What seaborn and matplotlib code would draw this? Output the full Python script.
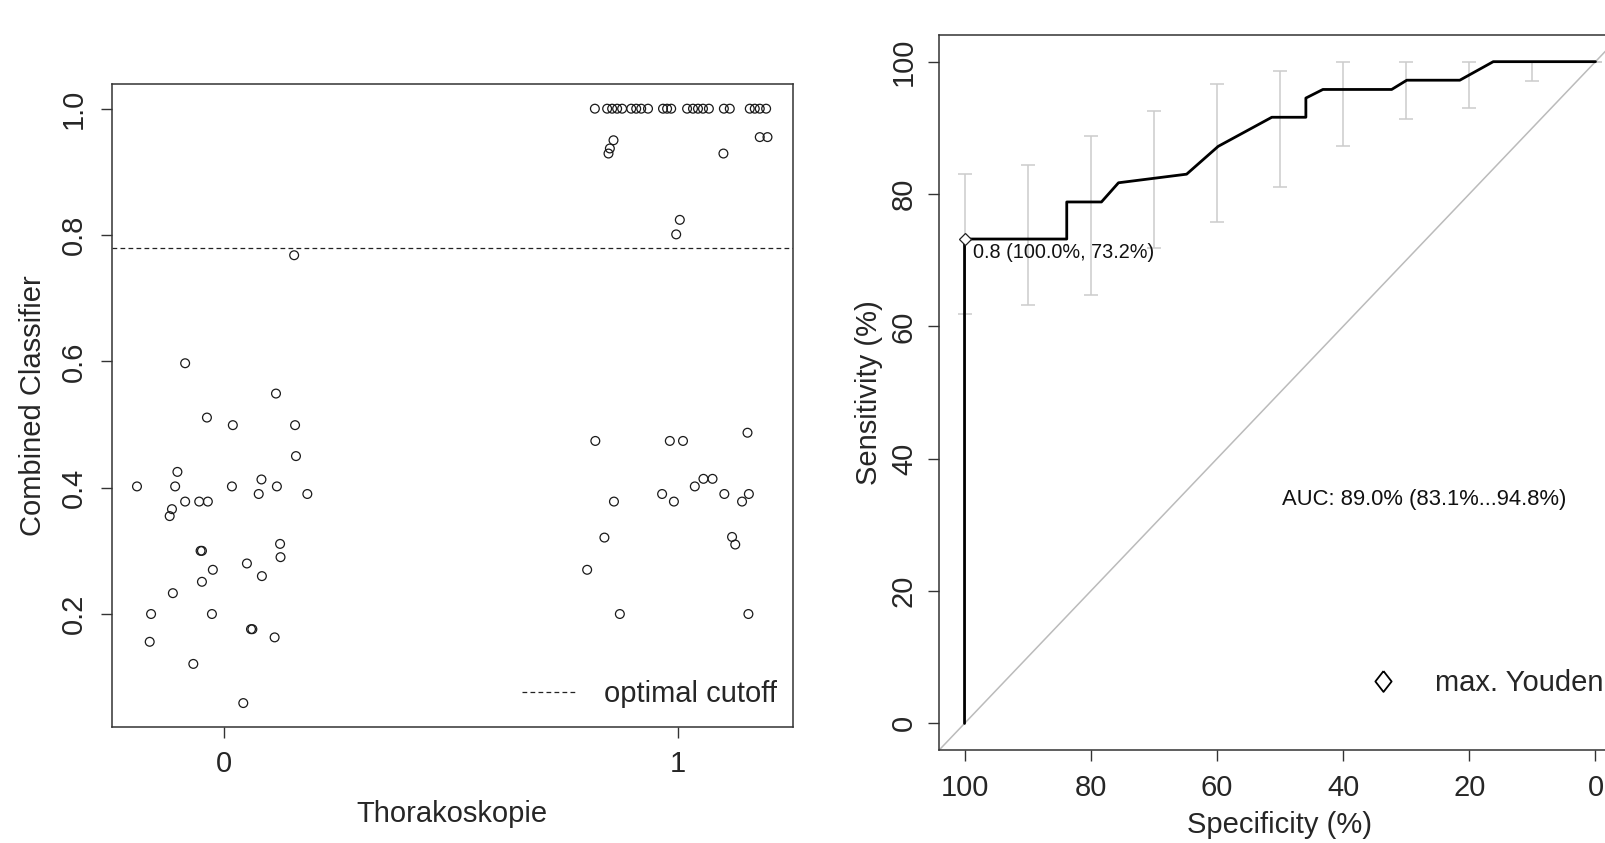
import numpy as np
import pandas as pd
import seaborn as sns
import matplotlib.pyplot as plt
from matplotlib.lines import Line2D

# jittered positions and classifier values, group 0 (no thoracoscopy)
grp0_x = [-0.085, 0.115, -0.037, 0.020, 0.157, 0.159, -0.102, -0.191, -0.107, 0.018,
          0.083, 0.117, 0.077, 0.184, -0.085, -0.054, -0.035, -0.114, -0.119, -0.051,
          -0.048, 0.124, 0.125, 0.051, -0.024, 0.084, -0.048, -0.112, -0.160, -0.026,
          0.060, 0.063, 0.112, -0.163, -0.067, 0.043, 0.155]
grp0_y = [0.597, 0.549, 0.511, 0.499, 0.499, 0.450, 0.425, 0.402, 0.402, 0.402,
          0.413, 0.402, 0.390, 0.390, 0.378, 0.378, 0.378, 0.366, 0.355, 0.300,
          0.300, 0.311, 0.290, 0.280, 0.270, 0.260, 0.251, 0.233, 0.200, 0.200,
          0.176, 0.176, 0.163, 0.156, 0.121, 0.059, 0.768]

# group 1 (thoracoscopy)
grp1_x = [0.817, 0.844, 0.855, 0.866, 0.877, 0.897, 0.908, 0.919, 0.934, 0.967,
          0.976, 0.985, 1.020, 1.033, 1.044, 1.055, 1.068, 1.101, 1.114, 1.158,
          1.169, 1.180, 1.194,
          0.858, 0.850, 0.847, 1.100, 1.180, 1.197, 1.004, 0.996,
          0.818, 0.982, 1.011, 1.153, 1.056, 1.076, 1.037, 0.965, 1.102, 1.156,
          0.859, 0.991, 1.141, 0.838, 1.119, 1.126, 0.800, 0.872, 1.155]
grp1_y = [1.0] * 23 + [
          0.950, 0.937, 0.929, 0.929, 0.955, 0.955, 0.824, 0.801,
          0.474, 0.474, 0.474, 0.487, 0.414, 0.414, 0.402, 0.390, 0.390, 0.390,
          0.378, 0.378, 0.378, 0.321, 0.322, 0.310, 0.270, 0.200, 0.200]

cutoff = 0.78

# ROC curve (specificity, sensitivity in %)
roc_spec = [100, 100, 83.8, 83.8, 78.3, 75.6, 64.8, 59.8, 51.3, 45.9, 45.9, 43.2,
            32.3, 29.9, 21.5, 16.2, 0]
roc_sens = [0, 73.2, 73.2, 78.8, 78.8, 81.7, 83.0, 87.2, 91.6, 91.6, 94.5, 95.8,
            95.8, 97.2, 97.2, 100, 100]

# confidence intervals of sensitivity
ci_spec = [100, 90, 80, 70, 60, 50, 40, 30, 20, 10, 0]
ci_lo = [61.9, 63.2, 64.7, 71.8, 75.7, 81.1, 87.3, 91.4, 93.0, 97.1, 100]
ci_hi = [83.0, 84.4, 88.7, 92.6, 96.7, 98.6, 100, 100, 100, 100, 100]

best_spec, best_sens = 100.0, 73.2

sns.set_theme(style='white')
plt.rcParams['font.family'] = ['Liberation Sans', 'DejaVu Sans']

FS = 21
fig = plt.figure(figsize=(16.06, 8.43), dpi=100)

# ---------------- left panel: strip chart ----------------
ax1 = fig.add_axes([112 / 1606, 1 - 726.7 / 843, 680.7 / 1606, 642.4 / 843])
pts = pd.DataFrame({'x': grp0_x + grp1_x, 'y': grp0_y + grp1_y})
sns.scatterplot(data=pts, x='x', y='y', ax=ax1, marker='o', s=40,
                facecolor='none', edgecolor='#1a1a1a', linewidth=0.9)
ax1.axhline(cutoff, color='#222222', lw=0.9, linestyle=(0, (3.8, 2.6)))
ax1.set_xlim(-0.246, 1.2525)
ax1.set_ylim(0.0216, 1.0386)
ax1.set_xticks([0, 1])
ax1.set_xticklabels(['0', '1'])
ax1.set_yticks([0.2, 0.4, 0.6, 0.8, 1.0])
ax1.set_yticklabels(['0.2', '0.4', '0.6', '0.8', '1.0'], rotation=90, va='center')
ax1.set_xlabel('Thorakoskopie', fontsize=FS, labelpad=15.5)
ax1.set_ylabel('Combined Classifier', fontsize=FS, labelpad=9)
leg_handle = [Line2D([], [], color='#222222', lw=0.9, linestyle=(0, (3.8, 2.6)))]
ax1.legend(leg_handle, ['optimal cutoff'], loc='center left', bbox_to_anchor=(0.602, 0.051),
           frameon=False, fontsize=FS, handlelength=1.9, handletextpad=0.93,
           borderpad=0, borderaxespad=0)

# ---------------- right panel: ROC curve ----------------
ax2 = fig.add_axes([939.3 / 1606, 1 - 749.9 / 843, 681.4 / 1606, 714.7 / 843])
ax2.axline((100, 0), (0, 100), color='#bbbbbb', lw=1.1, zorder=1)
lo = np.array(ci_lo)
hi = np.array(ci_hi)
ax2.errorbar(ci_spec, lo, yerr=[np.zeros_like(lo), hi - lo], fmt='none',
             ecolor='#cccccc', elinewidth=1.1, capsize=4.7, capthick=1.1, zorder=2)
sns.lineplot(x=roc_spec, y=roc_sens, sort=False, estimator=None, ax=ax2,
             color='black', lw=2.0, zorder=3)
ax2.plot(best_spec, best_sens, marker='D', ms=6.5, mfc='white', mec='#222222',
         mew=0.9, linestyle='none', zorder=4)
ax2.text(98.6, 71.2, f'0.8 ({best_spec:.1f}%, {best_sens:.1f}%)', fontsize=14.3,
         ha='left', va='center', color='#111111')
ax2.text(27.2, 33.9, 'AUC: 89.0% (83.1%...94.8%)', fontsize=15.8,
         ha='center', va='center', color='#111111')
ax2.set_xlim(104, -4)
ax2.set_ylim(-4, 104)
ax2.set_xticks([100, 80, 60, 40, 20, 0])
ax2.set_yticks([0, 20, 40, 60, 80, 100])
ax2.set_yticklabels(['0', '20', '40', '60', '80', '100'], rotation=90, va='center')
ax2.set_xlabel('Specificity (%)', fontsize=FS, labelpad=6)
ax2.set_ylabel('Sensitivity (%)', fontsize=FS, labelpad=5)
youden = [Line2D([], [], marker=[(0, 1), (0.78, 0), (0, -1), (-0.78, 0), (0, 1)],
                 ms=15, mfc='none', mec='black', mew=1.3, linestyle='none')]
ax2.legend(youden, ['max. Youden'], loc='center left', bbox_to_anchor=(0.608, 0.093),
           frameon=False, fontsize=FS, handlelength=2.0, handletextpad=0.8,
           borderpad=0, borderaxespad=0)

for ax in (ax1, ax2):
    for sp in ax.spines.values():
        sp.set_color('#333333')
        sp.set_linewidth(1.1)
        sp.set_visible(True)
    ax.tick_params(axis='both', direction='out', length=7.9, width=1.0, color='#333333',
                   labelsize=FS, left=True, bottom=True)
    ax.grid(False)

ax1.tick_params(axis='x', pad=9)
ax1.tick_params(axis='y', pad=9.6)
ax2.tick_params(axis='x', pad=9.7)
ax2.tick_params(axis='y', pad=7.5)

fig.savefig('out.png', dpi=100)
